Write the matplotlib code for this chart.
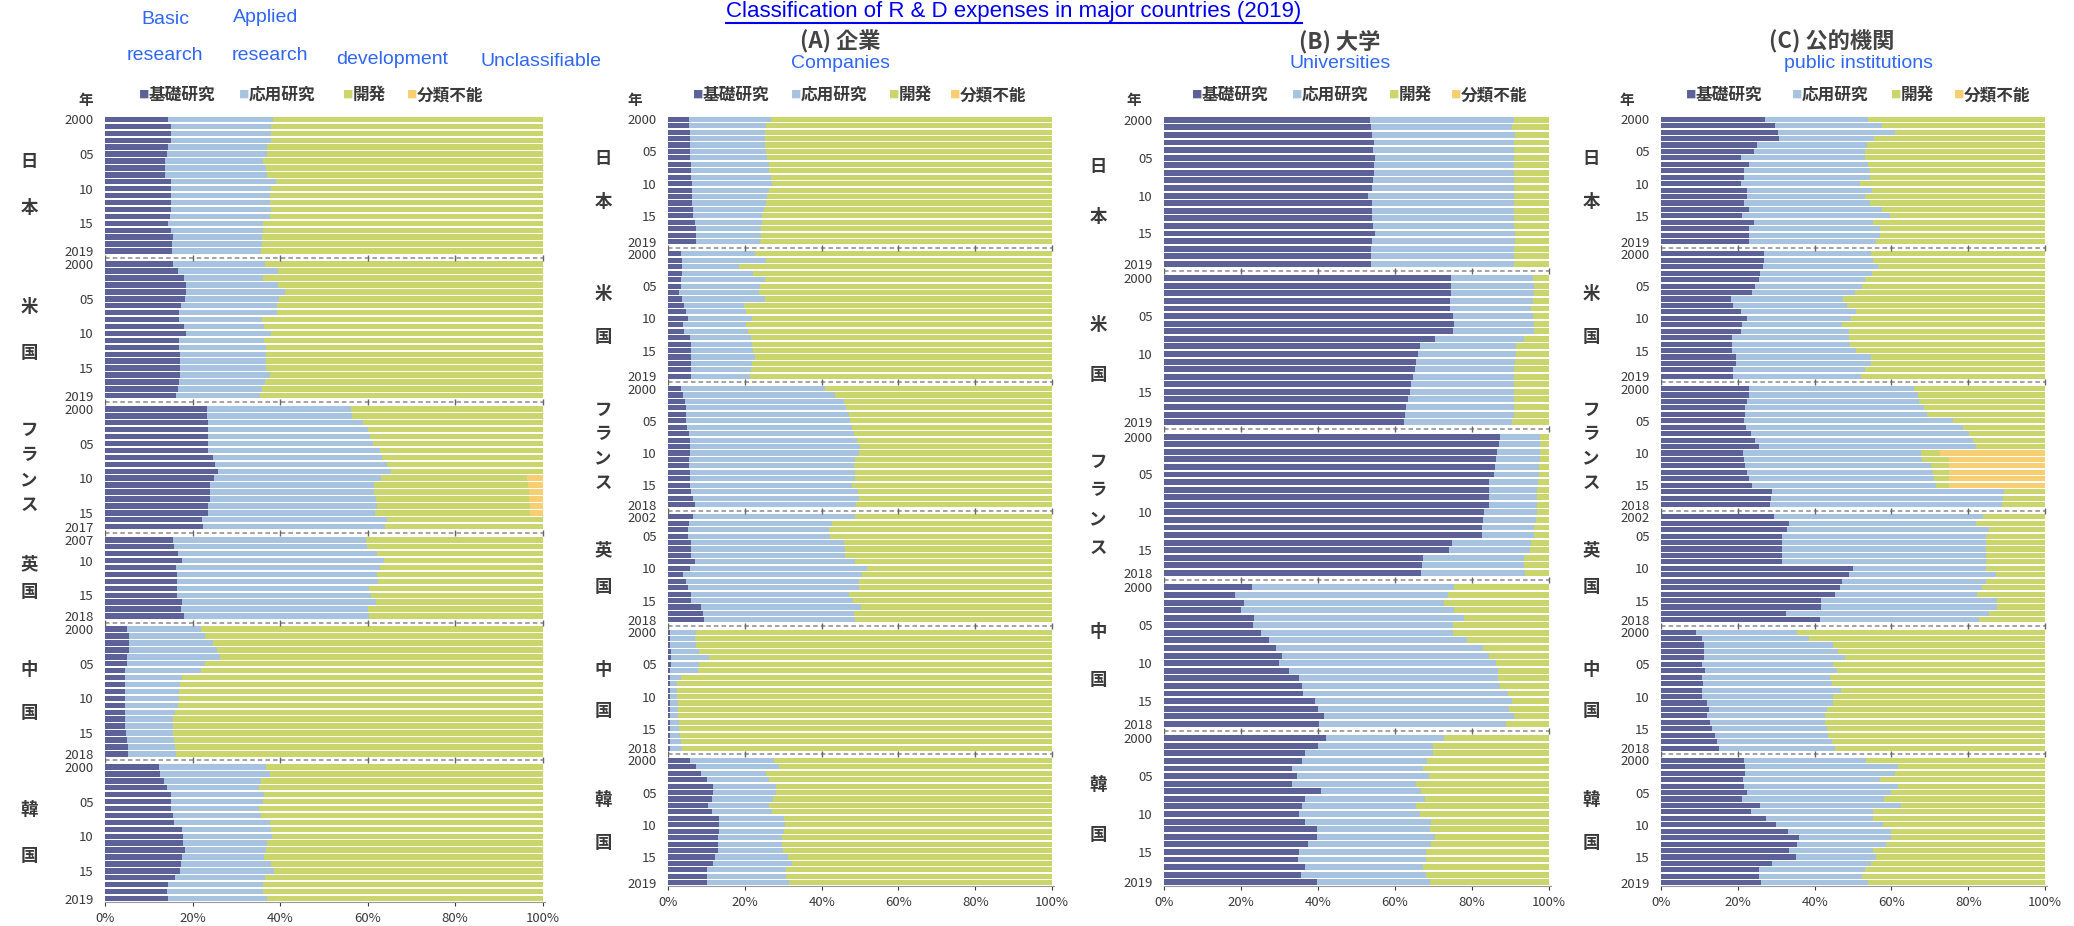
import numpy as np
import matplotlib.pyplot as plt
from matplotlib.lines import Line2D

plt.rcParams['font.family'] = ['Noto Sans CJK JP', 'DejaVu Sans']

W, H = 2074, 926

# ---------------- data (shares in %) ----------------
# "research" = basic + applied research (edge between applied and development)

# total
jp_basic_all = [14.5, 15, 15, 15, 14.3, 14.1, 13.7, 13.7, 13.7, 15, 15, 15, 15, 15, 14.8, 14.5, 15, 15.5, 15.2, 15.2]
jp_research_all = [38.4, 37.9, 37.9, 37.9, 37.1, 37.1, 36.1, 36.8, 37, 39, 37.9, 37.6, 37.6, 37.9, 37.8, 36.1, 36.1, 35.9, 35.9, 35.6]
us_basic_all = [15.5, 16.7, 18, 18.5, 18.4, 18.2, 17.4, 16.9, 16.9, 18, 18.5, 16.9, 16.9, 17.1, 17.1, 17.1, 17.1, 16.9, 16.6, 16.3]
us_research_all = [36.5, 39.5, 36.1, 39.5, 41.2, 39.8, 39.4, 39.4, 35.9, 36.3, 37.9, 36.3, 36.7, 36.8, 36.8, 36.8, 37.6, 36.5, 35.9, 35.5]
fr_basic_all = [23.2, 23.4, 23.6, 23.6, 23.6, 23.6, 23.6, 24.7, 25.2, 25.8, 24.8, 24, 24, 24, 23.6, 23.6, 22.2, 22.4]
fr_research_all = [56.2, 56.5, 59, 60, 60.5, 61.2, 62.7, 63.2, 64.3, 65.4, 63, 61.4, 61.4, 61.8, 62.2, 61.6, 64.4, 64]
fr_unclass_all = [0] * 10 + [3.6, 3.3, 3.2, 3.1, 3.0, 3.0] + [0, 0]
uk_basic_all = [15.5, 15.8, 16.6, 17.5, 16.3, 16.5, 16.5, 16.5, 16.5, 17.7, 17.4, 18]
uk_research_all = [59.6, 59.8, 62.2, 63.8, 62.8, 62.2, 62.4, 60.4, 60.8, 61.8, 60, 60.2]
cn_basic_all = [5, 5.4, 5.5, 5.5, 5, 5, 4.6, 4.5, 4.5, 4.5, 4.5, 4.6, 4.6, 4.5, 4.5, 4.8, 5, 5.3, 5.3]
cn_research_all = [22, 22.8, 24.7, 25.5, 26.3, 22.8, 22, 17.7, 17.1, 16.9, 16.9, 16.6, 16.1, 15.5, 15.5, 15.5, 15.8, 16, 16.3]
kr_basic_all = [12.3, 12.6, 13.5, 14.1, 15.1, 15.1, 15, 15.5, 15.8, 17.7, 17.9, 17.9, 18.2, 17.7, 17.4, 17.1, 15.9, 14.3, 14.1, 14.5]
kr_research_all = [36.8, 37.8, 35.7, 35.2, 36.3, 36, 35.2, 35.7, 37.8, 37.9, 38.2, 37.1, 36.8, 36.3, 37.9, 38.6, 36.5, 36.1, 36.1, 37]

# (A) companies
jp_basic_A = [5.4, 5.4, 5.6, 5.6, 5.6, 5.8, 5.8, 5.9, 6, 6, 6.3, 6.3, 6.3, 6.3, 6.5, 6.5, 6.9, 7.3, 7.3, 7.3]
jp_research_A = [26.8, 25.5, 25.3, 25.3, 25.3, 25.5, 25.9, 26.2, 26.3, 26.8, 27, 26.3, 25.9, 25.5, 25, 24.6, 24.4, 24.2, 24.2, 23.9]
us_basic_A = [3.5, 3.7, 3.7, 3.7, 3.5, 3.5, 2.8, 3.7, 4.1, 4.7, 5.2, 3.9, 4.1, 5.6, 6, 6, 6, 6, 6, 6]
us_research_A = [22.7, 25.5, 18.6, 22.2, 25.3, 23.9, 23.7, 25.3, 19.9, 20.3, 21.8, 20.3, 20.7, 21.6, 22, 22.2, 22.7, 22, 21.6, 21.3]
fr_basic_A = [3.5, 3.9, 4.3, 4.6, 4.7, 4.7, 4.9, 5.4, 5.6, 5.6, 5.6, 5.4, 5.4, 5.6, 5.6, 5.6, 6, 6.6, 6.9]
fr_research_A = [40.8, 43.6, 45.8, 46.4, 47, 47.5, 47.9, 48.4, 49.2, 50.1, 49.8, 48.6, 48.4, 48.8, 48.6, 47.9, 49.5, 49.7, 49]
uk_basic_A = [6.6, 5.4, 5.2, 5.2, 6, 6, 6, 6.9, 5.8, 3.9, 4.6, 5.2, 6, 6, 8.6, 9.1, 9.5]
uk_research_A = [48.8, 42.7, 41.9, 42.3, 45.8, 46, 46.2, 48.8, 51.8, 50.5, 49.8, 49.6, 47.2, 48.1, 50.3, 48.4, 48.8]
cn_basic_A = [0.4, 0.4, 0.5, 0.8, 0.8, 0.8, 0.5, 0.4, 0.4, 0.4, 0.4, 0.4, 0.4, 0.4, 0.4, 0.4, 0.4, 0.4, 0.4]
cn_research_A = [7.2, 6.9, 7.3, 8, 10.8, 8, 7.8, 3.5, 2.3, 2.3, 2.3, 2.6, 2.6, 2.6, 2.8, 2.8, 3, 3.5, 3.7]
kr_basic_A = [5.6, 7.2, 8.6, 10.1, 11.7, 11.7, 11.5, 10.4, 11.5, 13.4, 13.4, 13.2, 12.9, 12.9, 12.9, 12.3, 11.7, 10.1, 10.1, 10.1]
kr_research_A = [27.6, 28.9, 25.5, 26.3, 28.1, 28.1, 27.4, 26.3, 27, 30.2, 30.5, 30.2, 29.8, 29.8, 30, 31.3, 32.2, 30.7, 30.7, 31.5]

# (B) universities
jp_basic_B = [53.4, 53.7, 54, 54.6, 54.3, 54.7, 54.6, 54.6, 54.3, 53.9, 53, 53.9, 54, 54, 54.3, 54.9, 54, 53.7, 53.7, 53.7]
jp_research_B = [90.8, 90.5, 91.1, 91, 91, 91, 91, 90.8, 90.8, 90.8, 90.8, 90.8, 91, 91, 91, 91.1, 91.1, 91, 90.8, 91]
us_basic_B = [74.6, 74.6, 74.6, 74.4, 74.4, 75, 75.4, 75, 70.3, 66.4, 65.9, 65.5, 65.1, 64.7, 64.2, 63.8, 63.4, 62.9, 62.5, 62.3]
us_research_B = [95.7, 96, 96, 95.7, 95.3, 95.7, 96, 96, 93.5, 91.4, 91.4, 91.1, 90.9, 90.8, 90.8, 90.8, 90.8, 90.8, 90.8, 90.5]
fr_basic_B = [87.3, 87, 86.5, 86.2, 86, 85.8, 84.5, 84.5, 84.5, 84.5, 83.2, 82.8, 82.5, 82.5, 74.7, 74.1, 67.2, 67, 66.8]
fr_research_B = [97.7, 97.7, 97.7, 97.7, 97.4, 97.4, 97, 96.8, 96.8, 96.8, 96.8, 96.5, 96, 96, 95.3, 95.1, 93.5, 93.5, 93.7]
cn_basic_B = [22.8, 18.4, 20.7, 20.1, 23.3, 23, 25.3, 27.2, 29.1, 30.6, 29.9, 32.5, 35.1, 35.8, 36.2, 39.1, 40.1, 41.6, 40.3]
cn_research_B = [75.3, 73.7, 72.7, 75.3, 77.8, 75, 75, 78.7, 82.8, 84.5, 86.2, 86.8, 86.8, 87.3, 89.4, 90.5, 89.7, 91, 88.8]
kr_basic_B = [42, 40.1, 36.6, 35.8, 33.2, 34.5, 33.2, 40.8, 36.6, 35.9, 35.1, 36.6, 39.7, 39.7, 37.3, 35.1, 34.7, 36.5, 35.6, 39.7]
kr_research_B = [72.7, 69.8, 69.8, 68.4, 67.2, 68.7, 65.5, 66.8, 67.8, 65.5, 66.6, 69.4, 69.2, 70.3, 69.4, 68.1, 68.1, 67.2, 68.1, 69]

# (C) public institutions
jp_basic_C = [27.2, 29.7, 30.4, 30.6, 25, 24.1, 20.9, 22.8, 21.6, 21.6, 20.7, 22.4, 22.4, 21.6, 22.8, 21.1, 24.1, 23, 23, 23]
jp_research_C = [54, 57.5, 60.9, 55.4, 53.7, 53.2, 53.2, 53.9, 54.3, 54.3, 51.7, 54.9, 53.2, 54.3, 57.5, 59.5, 55.2, 56.9, 56.9, 56]
us_basic_C = [26.7, 26.7, 26.5, 25.9, 25.4, 24.6, 23.7, 18.1, 18.7, 20.7, 22.4, 21.1, 20.9, 18.5, 18.5, 18.5, 19.6, 19.4, 18.7, 18.7]
us_research_C = [54.7, 55.2, 56.6, 55, 53.2, 52.3, 50.6, 47.4, 48.3, 50.9, 49.4, 47, 48.9, 48.9, 49.1, 50.9, 54.7, 54.7, 53.2, 52]
fr_basic_C = [22.8, 22.8, 22.4, 22, 22, 21.6, 22.2, 23.5, 24.4, 25.4, 21.3, 21.6, 21.8, 22.4, 23, 23.7, 28.9, 28.6, 28.4]
fr_research_C = [65.8, 67, 67.2, 68.5, 69.2, 76.1, 78.7, 80.2, 81.3, 81.9, 67.8, 68, 70.3, 70.7, 71.1, 71.6, 89.2, 89, 88.8]
fr_unclass_C = [0] * 10 + [27.3, 25, 25, 25, 25, 25] + [0, 0, 0]
uk_basic_C = [29.3, 33.4, 32.8, 31.5, 31.5, 31.5, 31.5, 31.5, 50, 48.9, 47, 46.6, 45.3, 41.6, 41.6, 32.5, 41.4]
uk_research_C = [83.9, 81.9, 85.3, 84.5, 84.5, 84.5, 84.5, 84.5, 84.5, 87.1, 84.5, 83.6, 82.2, 87.5, 87.5, 85.3, 82.8]
cn_basic_C = [9.1, 10.8, 11.2, 11.2, 11.2, 10.8, 11.5, 10.6, 11, 10.6, 10.6, 12.1, 12.5, 12.1, 12.7, 13.4, 14.1, 14.7, 15.1]
cn_research_C = [35.3, 38.5, 44.8, 46.1, 48, 44.8, 45.7, 44, 44.4, 46.8, 44.8, 44.8, 43.1, 42.7, 42.7, 43.1, 43.4, 44.4, 45.3]
kr_basic_C = [21.6, 21.8, 21.8, 21.3, 21.6, 22.4, 21.1, 25.9, 23.5, 27.3, 29.9, 33, 35.9, 35.3, 33.4, 35.1, 28.9, 25.6, 25.4, 26.1]
kr_research_C = [53.4, 61.6, 61, 56.9, 61.8, 59.9, 58, 62.5, 55.2, 55.2, 57.8, 59.9, 59.9, 58.6, 55.2, 56, 54.7, 53.2, 52.3, 54]

categories = ['基礎研究', '応用研究', '開発', '分類不能']
colors = ['#5c6197', '#a8c3df', '#cad56b', '#f7cf72']

groups_all = [('日本', 2000, jp_basic_all, jp_research_all, None),
              ('米国', 2000, us_basic_all, us_research_all, None),
              ('フランス', 2000, fr_basic_all, fr_research_all, fr_unclass_all),
              ('英国', 2007, uk_basic_all, uk_research_all, None),
              ('中国', 2000, cn_basic_all, cn_research_all, None),
              ('韓国', 2000, kr_basic_all, kr_research_all, None)]
groups_A = [('日本', 2000, jp_basic_A, jp_research_A, None),
            ('米国', 2000, us_basic_A, us_research_A, None),
            ('フランス', 2000, fr_basic_A, fr_research_A, None),
            ('英国', 2002, uk_basic_A, uk_research_A, None),
            ('中国', 2000, cn_basic_A, cn_research_A, None),
            ('韓国', 2000, kr_basic_A, kr_research_A, None)]
groups_B = [('日本', 2000, jp_basic_B, jp_research_B, None),
            ('米国', 2000, us_basic_B, us_research_B, None),
            ('フランス', 2000, fr_basic_B, fr_research_B, None),
            ('中国', 2000, cn_basic_B, cn_research_B, None),
            ('韓国', 2000, kr_basic_B, kr_research_B, None)]
groups_C = [('日本', 2000, jp_basic_C, jp_research_C, None),
            ('米国', 2000, us_basic_C, us_research_C, None),
            ('フランス', 2000, fr_basic_C, fr_research_C, fr_unclass_C),
            ('英国', 2002, uk_basic_C, uk_research_C, None),
            ('中国', 2000, cn_basic_C, cn_research_C, None),
            ('韓国', 2000, kr_basic_C, kr_research_C, None)]

GAP = 0.9
TXT = '#3a3a3a'
BLUE = '#2f66f2'


def fx(px):
    return px / W


def fy(py):
    return 1 - py / H


def draw_panel(ax, groups, label_px, left_px, width_px):
    pos = 0.0
    yt, ytl, seps = [], [], []
    lx = (label_px - left_px) / width_px
    for name, y0, basic, research, unclass in groups:
        n = len(basic)
        ys = pos + np.arange(n)
        basic = np.array(basic)
        research = np.array(research)
        unc = np.zeros(n) if unclass is None else np.array(unclass)
        applied = research - basic
        dev = 100 - research - unc
        ax.barh(ys, basic, height=0.78, color=colors[0], lw=0)
        ax.barh(ys, applied, left=basic, height=0.78, color=colors[1], lw=0)
        ax.barh(ys, dev, left=research, height=0.78, color=colors[2], lw=0)
        ax.barh(ys, unc, left=research + dev, height=0.78, color=colors[3], lw=0)
        for i in range(n):
            yr = y0 + i
            if i == 0 or i == n - 1:
                lab = str(yr)
            elif yr % 5 == 0:
                lab = '%02d' % (yr % 100)
            else:
                continue
            yt.append(ys[i])
            ytl.append(lab)
        k = len(name)
        for j, ch in enumerate(name):
            ax.text(lx, pos - 0.5 + n * (j + 1) / (k + 1), ch, transform=ax.get_yaxis_transform(),
                    ha='center', va='center', fontsize=12.5, fontweight='bold', color=TXT)
        pos += n
        seps.append(pos - 0.5 + GAP / 2)
        pos += GAP
    for s in seps[:-1]:
        ax.plot([0, 100], [s, s], ls=(0, (3, 2)), color='#8a8a8a', lw=1.1)
        ax.plot([0, 20, 40, 60, 80, 100], [s] * 6, '|', color='#666666', ms=4, mew=1)
    ax.set_ylim(pos - GAP - 0.5, -0.5)
    ax.set_xlim(0, 100.5)
    ax.set_yticks(yt)
    ax.set_yticklabels(ytl)
    ax.set_xticks([0, 20, 40, 60, 80, 100])
    ax.set_xticklabels(['0%', '20%', '40%', '60%', '80%', '100%'])
    ax.tick_params(axis='y', length=0, labelsize=9.5, colors=TXT, pad=8)
    ax.tick_params(axis='x', length=3, labelsize=9.5, colors=TXT, pad=4)
    for sp in ['top', 'right', 'left']:
        ax.spines[sp].set_visible(False)
    ax.spines['bottom'].set_color('#999999')


fig = plt.figure(figsize=(W / 100, H / 100), dpi=100)

panels = [(groups_all, 105, 440, 116, 902, 29),
          (groups_A, 668, 386, 116, 886, 603),
          (groups_B, 1164, 387, 116, 886, 1098),
          (groups_C, 1661, 386, 116, 886, 1591)]
for groups, left, width, top, bottom, lab in panels:
    ax = fig.add_axes([fx(left), fy(bottom), width / W, (bottom - top) / H])
    draw_panel(ax, groups, lab, left, width)

# legends
legend_x = [[139, 239, 343, 407],
            [693, 791, 889, 950],
            [1192, 1292, 1389, 1451],
            [1686, 1792, 1891, 1954]]
year_x = [86, 635, 1134, 1627]
for xs, yx in zip(legend_x, year_x):
    for x, c, lab in zip(xs, colors, categories):
        fig.text(fx(x), fy(95), '■', color=c, fontsize=7.5, ha='left', va='center')
        fig.text(fx(x + 10), fy(95), lab, color=TXT, fontsize=12, fontweight='bold', ha='left', va='center')
    fig.text(fx(yx), fy(100), '年', color=TXT, fontsize=10.5, fontweight='bold', ha='center', va='center')

# headings
fig.text(fx(840), fy(42), '(A) 企業', fontsize=16, fontweight='bold', color='#444444', ha='center', va='center')
fig.text(fx(1340), fy(42), '(B) 大学', fontsize=16, fontweight='bold', color='#444444', ha='center', va='center')
fig.text(fx(1832), fy(42), '(C) 公的機関', fontsize=16, fontweight='bold', color='#444444', ha='center', va='center')

# blue English notes
note = dict(color=BLUE, fontsize=14, family='Liberation Sans', ha='center', va='center')
fig.text(fx(840), fy(63), 'Companies', **note)
fig.text(fx(1340), fy(63), 'Universities', **note)
fig.text(fx(1858), fy(63), 'public institutions', **note)
fig.text(fx(165), fy(20), 'Basic', **note)
fig.text(fx(165), fy(56), 'research', **note)
fig.text(fx(266), fy(18), 'Applied', **note)
fig.text(fx(270), fy(55), 'research', **note)
fig.text(fx(392), fy(60), 'development', **note)
fig.text(fx(541), fy(61), 'Unclassifiable', **note)

# link title at the very top, underlined
title = fig.text(fx(1014), fy(1), 'Classification of R & D expenses in major countries (2019)', color='#0000ee',
                 fontsize=16, family='Liberation Sans', ha='center', va='top')
fig.canvas.draw()
bb = title.get_window_extent()
fig.add_artist(Line2D([bb.x0 / W, bb.x1 / W], [(bb.y0 - 1) / H, (bb.y0 - 1) / H], color='#0000ee', lw=1.5))

fig.savefig('out.png', dpi=100)
